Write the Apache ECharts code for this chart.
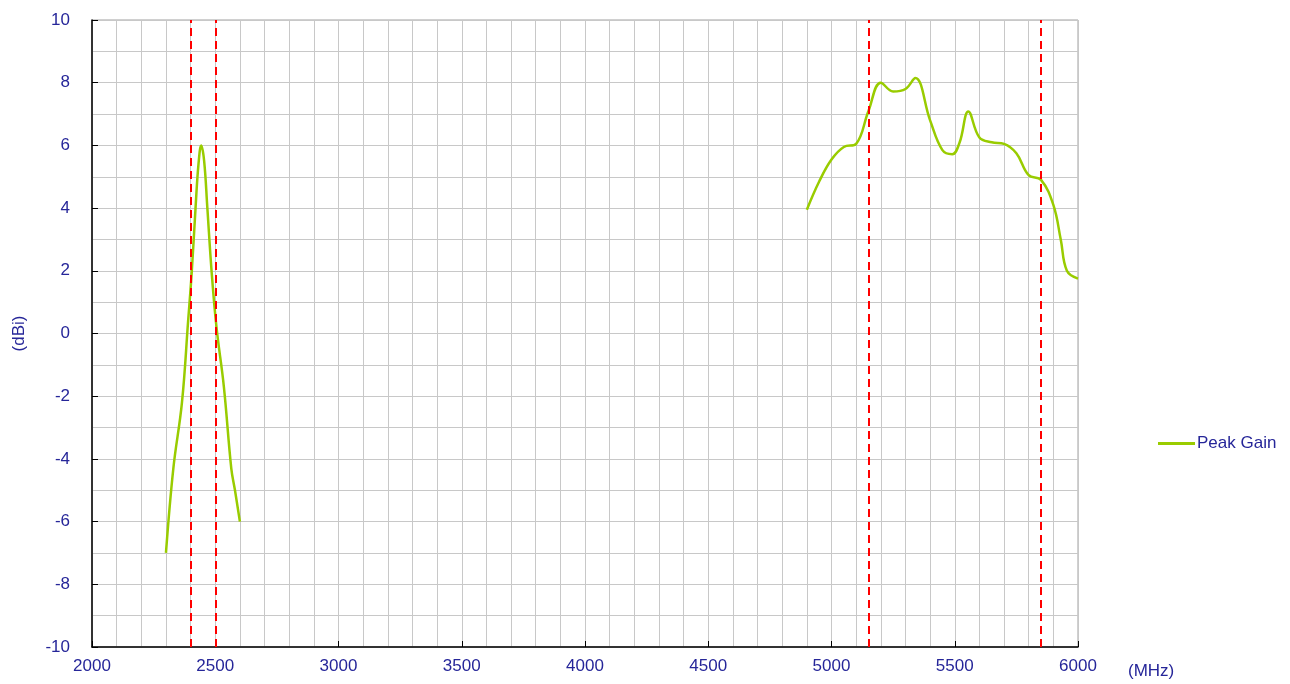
<!DOCTYPE html>
<html>
<head>
<meta charset="utf-8">
<script src="https://cdn.jsdelivr.net/npm/echarts@6/dist/echarts.min.js"></script>
<style>html,body{margin:0;padding:0;background:#fff}#c{width:1290px;height:684px}</style>
</head>
<body>
<div id="c"></div>
<script>
var lowFreq = [2300, 2330, 2365, 2390, 2405, 2420, 2432, 2443, 2455, 2468, 2485, 2505, 2535, 2565, 2580, 2600];
var lowGain = [-7.0, -4.3, -2.2, 0.4, 2.0, 4.0, 5.4, 6.0, 5.5, 4.0, 2.0, 0.2, -1.7, -4.3, -5.0, -6.0];
var highFreq = [4900, 4950, 5000, 5050, 5100, 5150, 5200, 5250, 5300, 5340, 5400, 5450, 5490, 5520, 5555, 5600, 5650, 5700, 5750, 5800, 5850, 5900, 5930, 5955, 6000];
var highGain = [3.95, 4.85, 5.55, 5.95, 6.05, 7.1, 8.0, 7.72, 7.8, 8.15, 6.8, 5.85, 5.72, 6.1, 7.08, 6.25, 6.1, 6.05, 5.75, 5.05, 4.9, 4.1, 3.0, 2.0, 1.75];
var bandEdges = [2400, 2500, 5150, 5850];
var xTicks = [2000, 2500, 3000, 3500, 4000, 4500, 5000, 5500, 6000];
var yTicks = [-10, -8, -6, -4, -2, 0, 2, 4, 6, 8, 10];

var data = [];
lowFreq.forEach(function (f, i) { data.push([f, lowGain[i]]); });
data.push([3500, '-']);
highFreq.forEach(function (f, i) { data.push([f, highGain[i]]); });

var txt = '#262699';
var ff = 'Liberation Sans, Arial, sans-serif';
var fs = 17;
var chart = echarts.init(document.getElementById('c'));
chart.setOption({
  animation: false,
  grid: { left: 92, right: 212, top: 20, bottom: 37, show: true, borderColor: '#a0a0a0', borderWidth: 1 },
  legend: {
    left: 1153, top: 430, orient: 'vertical',
    itemWidth: 37, itemHeight: 3, itemGap: 5,
    textStyle: { color: txt, fontSize: fs, fontFamily: ff, padding: [0, 0, 0, -3] },
    data: [{ name: 'Peak Gain', icon: 'rect' }]
  },
  xAxis: {
    type: 'value', min: xTicks[0], max: xTicks[xTicks.length - 1], interval: 500,
    name: '(MHz)', nameLocation: 'end', nameGap: 50,
    nameTextStyle: { color: txt, fontSize: fs, fontFamily: ff, verticalAlign: 'top', padding: [16, 0, 0, 0] },
    axisLine: { show: true, onZero: false, lineStyle: { color: '#000', width: 1.5 } },
    axisTick: { show: true, inside: true, length: 6, lineStyle: { color: '#000' } },
    minorTick: { show: false, splitNumber: 5 },
    axisLabel: { color: txt, fontSize: fs, margin: 11, fontFamily: ff, formatter: function (v) { return String(v); } },
    splitLine: { show: true, lineStyle: { color: '#c8c8c8', width: 1 } },
    minorSplitLine: { show: true, lineStyle: { color: '#c8c8c8', width: 1 } }
  },
  yAxis: {
    type: 'value', min: yTicks[0], max: yTicks[yTicks.length - 1], interval: 2,
    name: '(dBi)', nameLocation: 'middle', nameGap: 64,
    nameTextStyle: { color: txt, fontSize: fs, fontFamily: ff },
    axisLine: { show: true, onZero: false, lineStyle: { color: '#000', width: 1.5 } },
    axisTick: { show: true, inside: true, length: 6, lineStyle: { color: '#000' } },
    minorTick: { show: false, splitNumber: 2 },
    axisLabel: { color: txt, fontSize: fs, margin: 22, fontFamily: ff, formatter: function (v) { return String(v); } },
    splitLine: { show: true, lineStyle: { color: '#c8c8c8', width: 1 } },
    minorSplitLine: { show: true, lineStyle: { color: '#c8c8c8', width: 1 } }
  },
  series: [{
    name: 'Peak Gain', type: 'line', data: data, smooth: 0.4, symbol: 'none', showSymbol: false,
    connectNulls: false,
    itemStyle: { color: '#99cc00' },
    lineStyle: { color: '#99cc00', width: 2.5 },
    markLine: {
      silent: true, symbol: ['none', 'none'], label: { show: false },
      lineStyle: { color: '#ff0000', type: [8, 5], width: 2 },
      data: bandEdges.map(function (v) { return { xAxis: v }; })
    },
    z: 3
  }]
});
</script>
</body>
</html>
